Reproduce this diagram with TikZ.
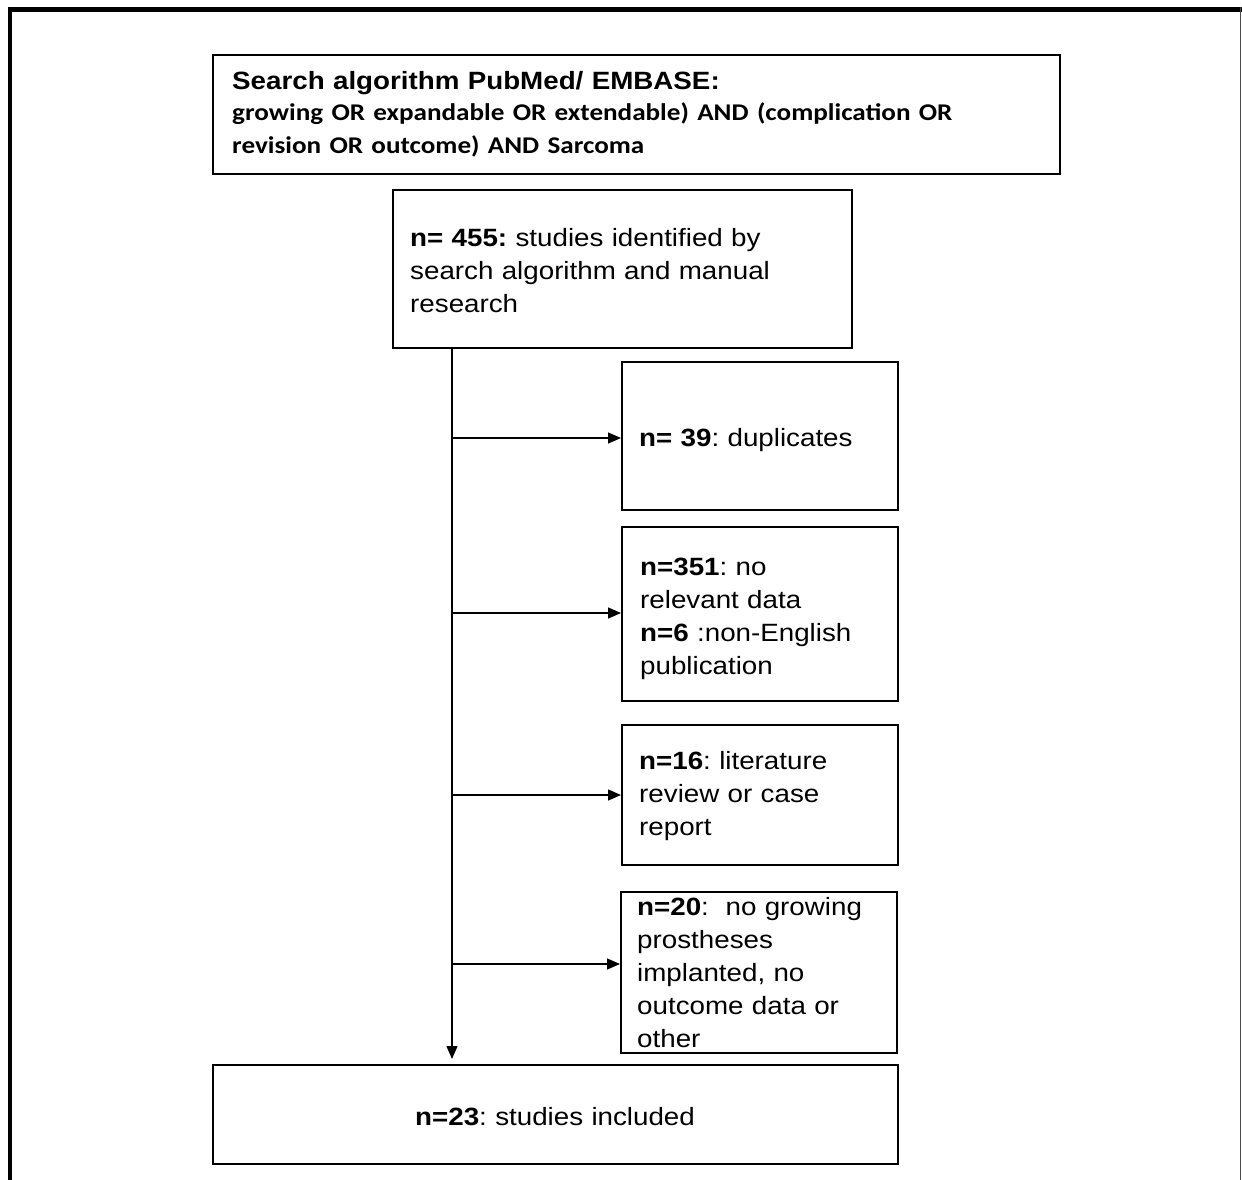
\documentclass[tikz,border=0pt]{standalone}
\usepackage{fontspec}
\setmainfont{Liberation Sans}[FakeStretch=1.11]
\newfontfamily\calib{Carlito}[FakeStretch=1.13]
\usetikzlibrary{arrows.meta}
\frenchspacing
\begin{document}
\begin{tikzpicture}[x=1pt,y=-1pt,
  box/.style={draw=black, line width=1.6pt, rectangle, inner sep=0pt, anchor=north west},
  txt/.style={anchor=base west, inner sep=0pt, align=left, text width=#1, font=\fontsize{25pt}{33pt}\selectfont},
  conn/.style={draw=black, line width=1.4pt},
  arr/.style={conn, -{Triangle[length=13pt,width=11pt]}}]
\useasboundingbox (0,0) rectangle (1242,1180);
% frame
\draw[line width=5pt] (8,9.5) -- (1242,9.5);
\draw[line width=4pt] (10,7) -- (10,1180);
\draw[line width=1.6pt, black!70] (1240.5,7) -- (1240.5,1180);
% boxes
\node[box, minimum width=847pt, minimum height=119pt] (b0) at (212,54) {};
\node[box, minimum width=459pt, minimum height=158pt] (b1) at (392,189) {};
\node[box, minimum width=276pt, minimum height=148pt] (b2) at (621,361) {};
\node[box, minimum width=276pt, minimum height=174pt] (b3) at (621,526) {};
\node[box, minimum width=276pt, minimum height=140pt] (b4) at (621,724) {};
\node[box, minimum width=276pt, minimum height=161pt] (b5) at (620,891) {};
\node[box, minimum width=685pt, minimum height=99pt] (b6) at (212,1064) {};
% texts
\node[txt=820pt] (t0) at (232,90) {\textbf{Search algorithm PubMed/ EMBASE:}\\[-2pt]
  {\calib\fontsize{24pt}{33pt}\selectfont\bfseries growing OR expandable OR extendable) AND (complication OR}\\
  {\calib\fontsize{24pt}{33pt}\selectfont\bfseries revision OR outcome) AND Sarcoma}};
\node[txt=430pt] (t1) at (410,246) {\textbf{n= 455:} studies identified by\\search algorithm and manual\\research};
\node[txt=250pt] (t2) at (639,446) {\textbf{n= 39}: duplicates};
\node[txt=250pt] (t3) at (640,575) {\textbf{n=351}: no\\relevant data\\\textbf{n=6} :non-English\\publication};
\node[txt=250pt] (t4) at (639,769) {\textbf{n=16}: literature\\review or case\\report};
\node[txt=250pt] (t5) at (637,915) {\textbf{n=20}:\ \ no growing\\prostheses\\implanted, no\\outcome data or\\other};
\node[txt=400pt] (t6) at (415,1125) {\textbf{n=23}: studies included};
% connectors
\coordinate (v) at (452,0);
\coordinate (c1) at (452,438);
\coordinate (c2) at (452,613);
\coordinate (c3) at (452,795);
\coordinate (c4) at (452,964);
\draw[arr, shorten >=5pt] (b1.south -| v) -- (b6.north -| v);
\draw[arr] (c1) -- (b2.west |- c1);
\draw[arr] (c2) -- (b3.west |- c2);
\draw[arr] (c3) -- (b4.west |- c3);
\draw[arr] (c4) -- (b5.west |- c4);
\end{tikzpicture}
\end{document}
